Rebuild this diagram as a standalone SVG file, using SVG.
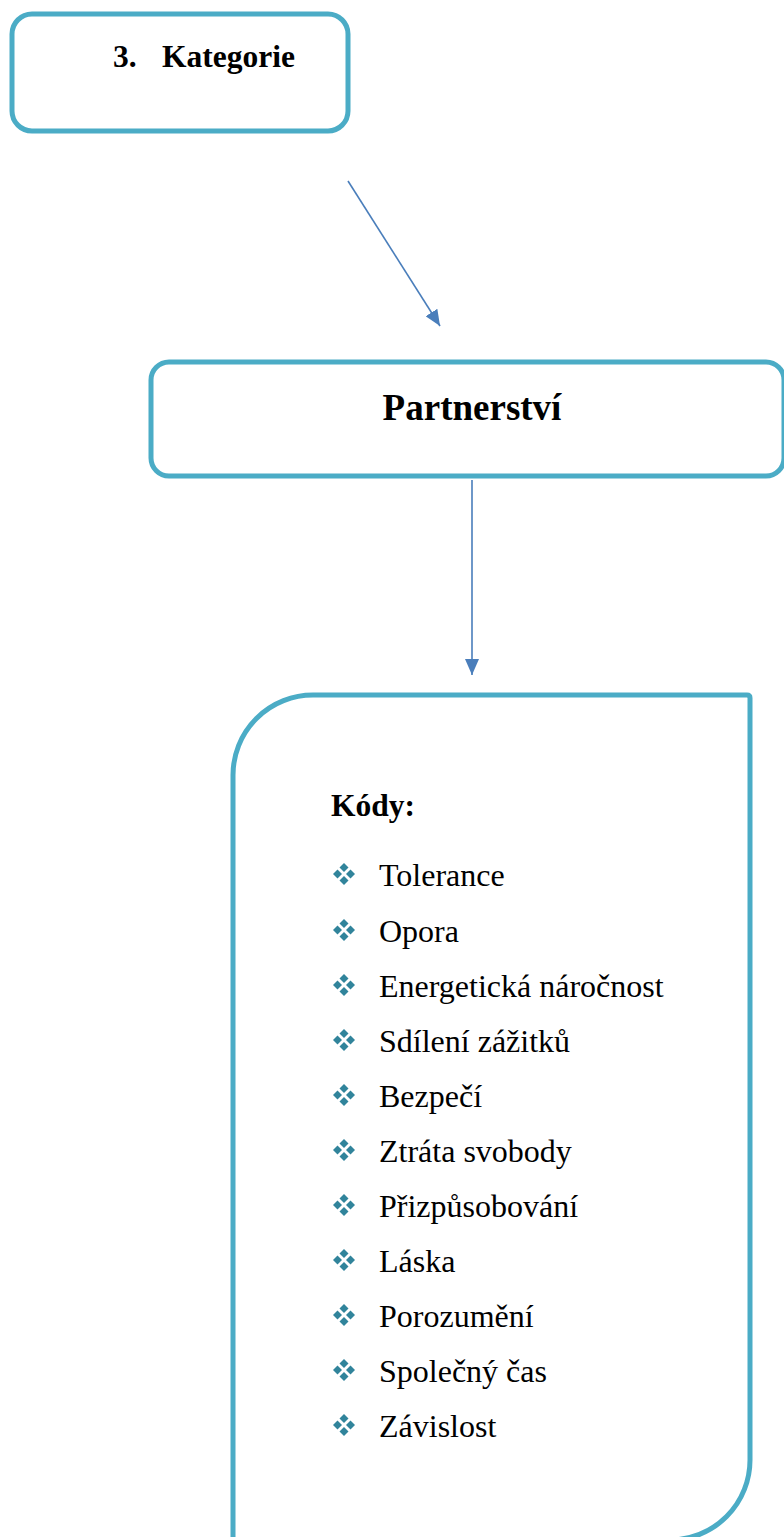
<svg xmlns="http://www.w3.org/2000/svg" width="784" height="1537" viewBox="0 0 784 1537">
<style>
.box{fill:#fff;stroke:#4bacc6;stroke-width:5}
.conn{stroke:#4a7ebb;stroke-width:1.6;fill:none}
.hd{font-family:"Liberation Serif","Times New Roman",serif;font-weight:bold;fill:#000}
.it{font-family:"Liberation Serif","Times New Roman",serif;font-size:32px;fill:#000}
.bul{fill:#31849b}
</style>
<defs>
<marker id="ah2" viewBox="0 0 16 14" markerWidth="16" markerHeight="14" refX="16" refY="7" orient="auto" markerUnits="userSpaceOnUse">
<path d="M0,0 L16,7 L0,14 Z" fill="#4a7ebb"/>
</marker>
<g id="b">
<path d="M0,-11 L4.5,-6.5 L0,-2 L-4.5,-6.5 Z"/>
<path d="M0,11 L4.5,6.5 L0,2 L-4.5,6.5 Z"/>
<path d="M-11,0 L-6.5,-4.5 L-2,0 L-6.5,4.5 Z"/>
<path d="M11,0 L6.5,-4.5 L2,0 L6.5,4.5 Z"/>
</g>
</defs>
<g id="connectors">
<line class="conn" x1="348" y1="181" x2="440" y2="326" marker-end="url(#ah2)"/>
<line class="conn" x1="472" y1="480" x2="472" y2="675" marker-end="url(#ah2)"/>
</g>
<g id="node-kategorie">
<rect class="box" x="12" y="14" width="336" height="117" rx="20"/>
<text class="hd" x="113" y="67" font-size="31.5">3.</text>
<text class="hd" x="162" y="67" font-size="31.5">Kategorie</text>
</g>
<g id="node-partnerstvi">
<rect class="box" x="151" y="362" width="633" height="114" rx="18"/>
<text class="hd" x="472" y="420" font-size="37" text-anchor="middle">Partnerství</text>
</g>
<g id="node-kody">
<path class="box" d="M233,1545 L233,775 A80,80 0 0 1 313,695 L747,695 Q750,695 750,698 L750,1460 A80,80 0 0 1 670,1540 L233,1540"/>
<text class="hd" x="331" y="816" font-size="31.5">Kódy:</text>
<g class="bul">
<use href="#b" x="344" y="874"/>
<use href="#b" x="344" y="930"/>
<use href="#b" x="344" y="985"/>
<use href="#b" x="344" y="1040"/>
<use href="#b" x="344" y="1095"/>
<use href="#b" x="344" y="1150"/>
<use href="#b" x="344" y="1205"/>
<use href="#b" x="344" y="1260"/>
<use href="#b" x="344" y="1315"/>
<use href="#b" x="344" y="1370"/>
<use href="#b" x="344" y="1425"/>
</g>
<text class="it" x="379" y="886">Tolerance</text>
<text class="it" x="379" y="942">Opora</text>
<text class="it" x="379" y="997">Energetická náročnost</text>
<text class="it" x="379" y="1052">Sdílení zážitků</text>
<text class="it" x="379" y="1107">Bezpečí</text>
<text class="it" x="379" y="1162">Ztráta svobody</text>
<text class="it" x="379" y="1217">Přizpůsobování</text>
<text class="it" x="379" y="1272">Láska</text>
<text class="it" x="379" y="1327">Porozumění</text>
<text class="it" x="379" y="1382">Společný čas</text>
<text class="it" x="379" y="1437">Závislost</text>
</g>
</svg>
